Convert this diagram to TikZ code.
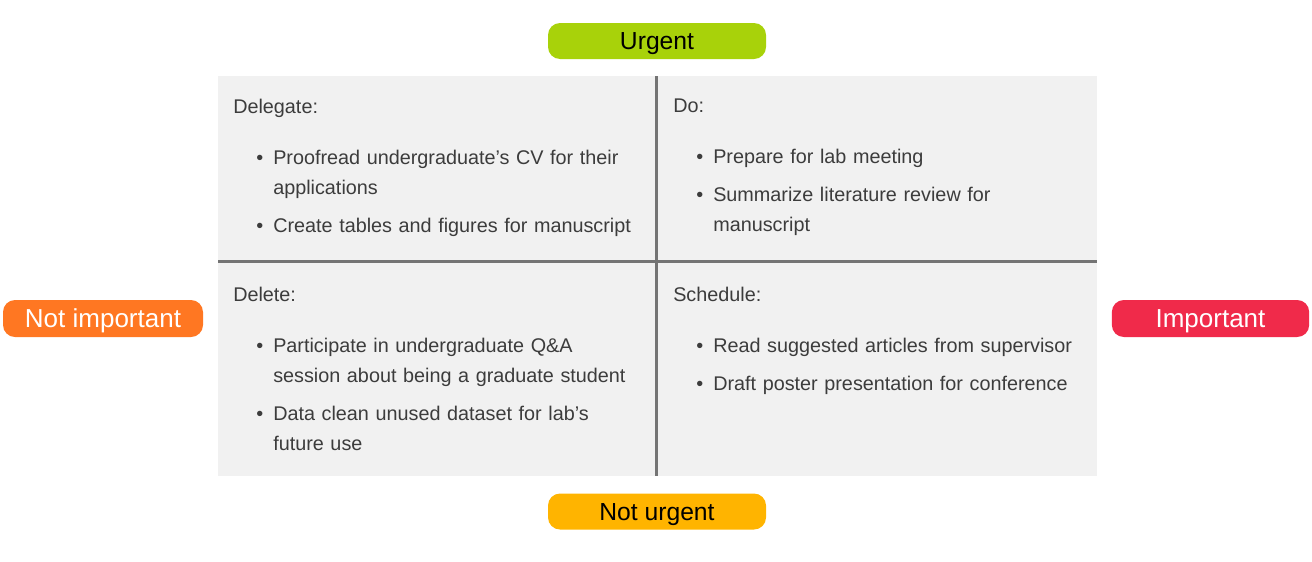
\documentclass[tikz,border=0pt]{standalone}
\usepackage{fontspec}
\setmainfont{Liberation Sans}
\usepackage{enumitem}

\definecolor{urgentgreen}{HTML}{A8D20A}
\definecolor{nimporange}{HTML}{FF7722}
\definecolor{impred}{HTML}{F02A4A}
\definecolor{nurgamber}{HTML}{FFB400}
\definecolor{panelgray}{HTML}{F1F1F1}
\definecolor{divgray}{HTML}{747474}
\definecolor{textgray}{HTML}{3C3C3C}

\setlength{\parskip}{0pt}
\setlist[itemize]{label=\textbullet,leftmargin=30pt,labelsep=7.5pt,topsep=15.75pt,partopsep=0pt,itemsep=6pt,parsep=0pt}

\begin{document}
\begin{tikzpicture}[x=0.75pt,y=-0.75pt,
      pill/.style={rounded corners=9pt,inner sep=0pt,minimum height=27pt,
        text height=13.3pt,text depth=0pt,font=\fontsize{18.5}{20}\selectfont},
      sidepill/.style={pill,text=white,minimum width=150pt,minimum height=27.75pt,
        text height=14pt,font=\fontsize{19.5}{21}\selectfont},
      quad/.style={anchor=north west,inner sep=0pt,text width=320pt,align=left,
        text=textgray,font=\fontsize{14.85}{22.5}\selectfont}]
      \useasboundingbox (0,0) rectangle (1312,561);
			% the four fields
			\coordinate (nw) at (218,76);
			\coordinate (se) at (1097,476);
			\coordinate (top) at (656,76);
			\coordinate (bottom) at (656,476);
			\coordinate (left) at (218,261);
			\coordinate (right) at (1097,261);
			\fill[panelgray] (nw) rectangle (se);
			\draw[divgray,line width=2.25pt] (top) -- (bottom) (left) -- (right);
			\node[quad] (delegate) at (233,99) {Delegate:
				\begin{itemize}
				\item Proofread undergraduate’s CV for their\newline applications
				\item Create tables and figures for manuscript
				\end{itemize}};
			\node[quad] (do) at (673,99) {Do:
				\begin{itemize}
				\item Prepare for lab meeting
				\item Summarize literature review for\newline manuscript
				\end{itemize}};
			\node[quad] (delete) at (233,287) {Delete:
				\begin{itemize}
				\item Participate in undergraduate Q\&A\newline session about being a graduate student
				\item Data clean unused dataset for lab’s\newline future use
				\end{itemize}};
			\node[quad] (schedule) at (673,287) {Schedule:
				\begin{itemize}
				\item Read suggested articles from supervisor
				\item Draft poster presentation for conference
				\end{itemize}};
			% axis labels
			\node[pill,fill=urgentgreen,minimum width=163.5pt] (urgent) at (657,41) {Urgent};
			\node[pill,fill=nurgamber,minimum width=163.5pt] (noturgent) at (657,511.5) {Not urgent};
			\node[sidepill,fill=nimporange] (notimportant) at (103,318.5) {Not important};
			\node[sidepill,fill=impred,minimum width=148pt] (important) at (1210.5,318.5) {Important};
		\end{tikzpicture}
\end{document}
